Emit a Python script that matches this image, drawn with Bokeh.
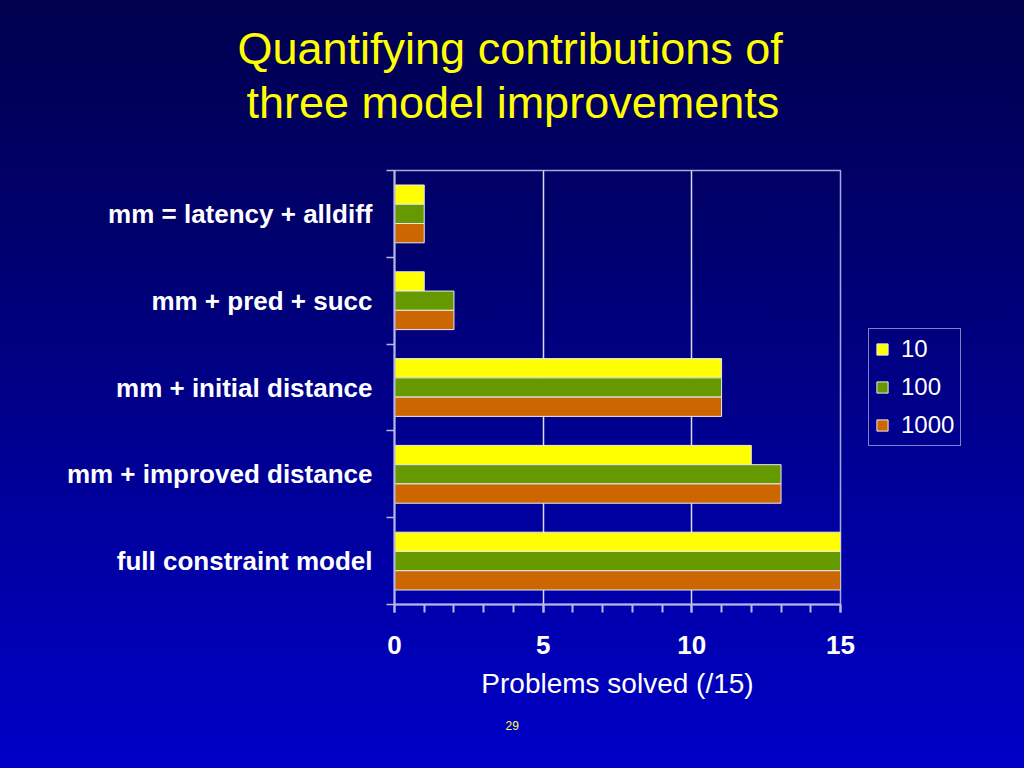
from bokeh.plotting import figure
from bokeh.models import (FixedTicker, Legend, LegendItem, ColumnDataSource, Range1d, Title)
from bokeh.embed import file_html
from bokeh.resources import INLINE

# ---- data ----
categories = ["mm = latency + alldiff", "mm + pred + succ", "mm + initial distance",
              "mm + improved distance", "full constraint model"]
series_names = ["10", "100", "1000"]
solved_10 = [1, 1, 11, 12, 15]
solved_100 = [1, 2, 11, 13, 15]
solved_1000 = [1, 2, 11, 13, 15]
x_ticks = [0, 5, 10, 15]
colors = ["#FFFF00", "#669900", "#CC6600"]
title_lines = ["Quantifying contributions of", "three model improvements"]

W, H = 1024, 768
FL, FR, FT, FB = 394, 840, 170, 604   # frame edges (styling)
FONT = "Liberation Sans"

p = figure(frame_width=FR - FL, frame_height=FB - FT, output_backend="svg", toolbar_location=None,
           x_range=Range1d(0, 15), y_range=Range1d(0, len(categories)),
           min_border_left=FL, min_border_right=W - FR, min_border_top=FT,
           min_border_bottom=H - FB)
p.title = None
p.background_fill_alpha = 0
p.border_fill_alpha = 0
p.styles = {"background": "linear-gradient(to bottom, #00004E 0%, #000070 33%, #00009C 66%, #0000C8 100%)"}
p.outline_line_color = "#A8A8E0"
p.outline_line_width = 1.5

n = len(categories)
ypos = [n - 0.5 - i for i in range(n)]
bh = 0.222
values = {"10": solved_10, "100": solved_100, "1000": solved_1000}
renderers = []
for k, (nm, off) in enumerate(zip(series_names, [bh, 0.0, -bh])):
    s = ColumnDataSource(dict(y=[y + off for y in ypos], v=values[nm]))
    r = p.hbar(y="y", right="v", left=0, height=bh, source=s, fill_color=colors[k],
               line_color="#E8E8F0", line_width=1)
    renderers.append(r)

# axes
xa = p.xaxis[0]
xa.ticker = FixedTicker(ticks=x_ticks, minor_ticks=list(range(0, 16)))
for attr in ["axis_line_color", "major_tick_line_color", "minor_tick_line_color"]:
    setattr(xa, attr, "#B8B8E8")
xa.axis_line_width = 2
xa.major_tick_line_width = 2
xa.minor_tick_line_width = 2
xa.major_tick_out = 8
xa.major_tick_in = 0
xa.minor_tick_out = 8
xa.minor_tick_in = 0
xa.major_label_text_color = "white"
xa.major_label_text_font = FONT
xa.major_label_text_font_style = "bold"
xa.major_label_text_font_size = "26px"
xa.major_label_standoff = 23
xa.axis_label = "Problems solved (/15)"
xa.axis_label_text_color = "white"
xa.axis_label_text_font = FONT
xa.axis_label_text_font_style = "normal"
xa.axis_label_text_font_size = "28px"
xa.axis_label_standoff = 11

ya = p.yaxis[0]
ya.ticker = FixedTicker(ticks=ypos, minor_ticks=list(range(0, n + 1)))
ya.major_label_overrides = {y: c for y, c in zip(ypos, categories)}
ya.axis_line_color = "#B8B8E8"
ya.axis_line_width = 2
ya.major_tick_out = 0
ya.major_tick_in = 0
ya.minor_tick_line_color = "#B8B8E8"
ya.minor_tick_line_width = 1.5
ya.minor_tick_out = 8
ya.minor_tick_in = 0
ya.major_label_text_color = "white"
ya.major_label_text_font = FONT
ya.major_label_text_font_style = "bold"
ya.major_label_text_font_size = "26px"
ya.major_label_standoff = 14

p.ygrid.visible = False
p.xgrid.ticker = FixedTicker(ticks=[5, 10])
p.xgrid.grid_line_color = "#D8D8F4"
p.xgrid.grid_line_width = 1.5

# legend
legend = Legend(items=[LegendItem(label=nm, renderers=[r]) for nm, r in zip(series_names, renderers)],
                location="center_left", orientation="vertical",
                background_fill_alpha=0, border_line_color="white", border_line_width=1.5,
                label_text_color="white", label_text_font=FONT, label_text_font_size="24px",
                glyph_width=14, glyph_height=14, label_standoff=12, spacing=10,
                padding=6, margin=28, label_height=28)
p.add_layout(legend, "right")

# title lines: the one added first sits nearest the frame (left-aligned with offsets to centre on the page)
for txt, off, so in [(title_lines[1], -148, 86), (title_lines[0], -157, -84)]:
    p.add_layout(Title(text=txt, align="left", offset=off, text_color="#FFFF00",
                       text_font=FONT, text_font_size="45px", text_font_style="normal",
                       standoff=so), "above")

# page number
p.add_layout(Title(text="29", align="left", offset=111, text_color="#FFFF44",
                   text_font=FONT, text_font_size="12px", text_font_style="normal",
                   standoff=34), "below")

open("out.html", "w").write(file_html(p, INLINE))
